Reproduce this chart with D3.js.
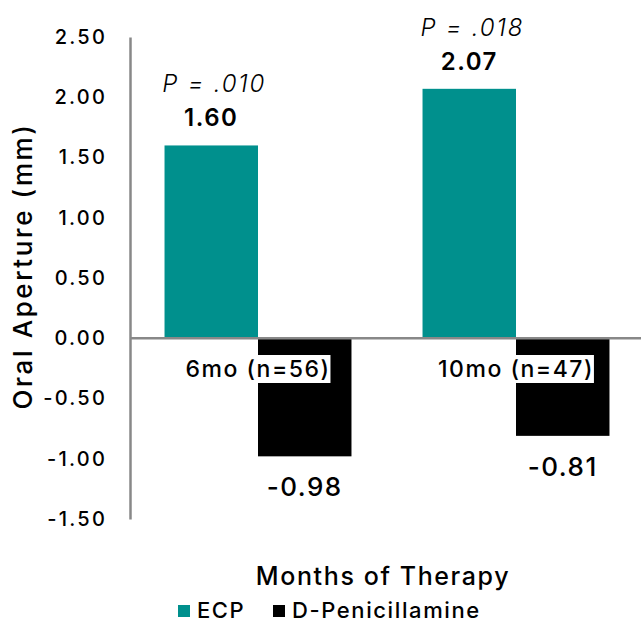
<!DOCTYPE html>
<html>
<head>
<meta charset="utf-8">
<script src="https://cdn.jsdelivr.net/npm/d3@7"></script>
<style>
  body { margin: 0; background: #fff; }
  text { font-family: Inter, "DejaVu Sans", sans-serif; fill: #000; }
</style>
</head>
<body>
<div id="chart"></div>
<script>
const categories = ['6mo (n=56)', '10mo (n=47)'];
const seriesNames = ['ECP', 'D-Penicillamine'];
const ecpValues = [1.60, 2.07];
const dpenValues = [-0.98, -0.81];
const pValues = ['P = .010', 'P = .018'];
const yTicks = [2.5, 2, 1.5, 1, 0.5, 0, -0.5, -1, -1.5];

const colors = { 'ECP': '#00908d', 'D-Penicillamine': '#000000' };

const width = 641, height = 622;

// plain hyphen for negatives, like the source
const fmt = v => d3.format('.2f')(v).replace('\u2212', '-');

const svg = d3.select('#chart')
  .append('svg')
  .attr('width', width)
  .attr('height', height);

const y = d3.scaleLinear()
  .domain([-1.5, 2.5])
  .range([519, 37]);

const x0 = d3.scaleBand()
  .domain(categories)
  .range([129, 645]);

const x1 = d3.scaleBand()
  .domain(seriesNames)
  .range([0, x0.bandwidth()])
  .paddingOuter(0.38);

const rows = categories.map((c, i) => ({
  cat: c,
  p: pValues[i],
  values: [
    { key: 'ECP', v: ecpValues[i] },
    { key: 'D-Penicillamine', v: dpenValues[i] }
  ]
}));

// y axis, no tick marks
const yAxis = svg.append('g')
  .attr('transform', 'translate(130,0)')
  .call(d3.axisLeft(y).tickValues(yTicks).tickSize(0).tickPadding(23).tickFormat(fmt));
yAxis.select('.domain').attr('stroke', '#888').attr('stroke-width', 2.5);
yAxis.selectAll('text')
  .style('font-family', 'Inter, "DejaVu Sans", sans-serif')
  .style('font-size', '20px')
  .style('font-weight', '500')
  .style('letter-spacing', '2.2px')
  .attr('fill', '#000');

svg.append('text')
  .attr('transform', 'translate(32,266) rotate(-90)')
  .attr('text-anchor', 'middle')
  .style('font-size', '26px')
  .style('font-weight', '500')
  .style('letter-spacing', '2.6px')
  .text('Oral Aperture (mm)');

const groups = svg.selectAll('.grp')
  .data(rows)
  .enter()
  .append('g')
  .attr('class', 'grp')
  .attr('transform', d => `translate(${x0(d.cat)},0)`);

groups.selectAll('rect')
  .data(d => d.values)
  .enter()
  .append('rect')
  .attr('x', d => x1(d.key))
  .attr('y', d => y(Math.max(0, d.v)))
  .attr('width', x1.bandwidth())
  .attr('height', d => Math.abs(y(d.v) - y(0)))
  .attr('fill', d => colors[d.key]);

svg.append('line')
  .attr('x1', 130).attr('x2', x0.range()[1])
  .attr('y1', y(0)).attr('y2', y(0))
  .attr('stroke', '#888')
  .attr('stroke-width', 2.5);

// value labels
groups.selectAll('.val')
  .data(d => d.values)
  .enter()
  .append('text')
  .attr('class', 'val')
  .attr('x', d => x1(d.key) + x1.bandwidth() / 2)
  .attr('y', d => d.v >= 0 ? y(d.v) - 19 : y(d.v) + 40)
  .attr('text-anchor', 'middle')
  .style('font-size', d => d.v >= 0 ? '24px' : '26px')
  .style('font-weight', d => d.v >= 0 ? '600' : '500')
  .style('letter-spacing', '1.5px')
  .text(d => fmt(d.v));

// p values above the ECP bars
groups.append('text')
  .attr('x', d => x1('ECP') + x1.bandwidth() / 2 + 3)
  .attr('y', d => y(d.values[0].v) - 53)
  .attr('text-anchor', 'middle')
  .style('font-size', '24px')
  .style('font-style', 'italic')
  .style('font-weight', '300')
  .style('letter-spacing', '1.8px')
  .text(d => d.p);

// category labels on a white box
groups.each(function(d) {
  const g = d3.select(this);
  const t = g.append('text')
    .attr('x', x0.bandwidth() / 2)
    .attr('y', 377)
    .attr('text-anchor', 'middle')
    .style('font-size', '23px')
    .style('font-weight', '500')
    .style('letter-spacing', '1.5px')
    .text(d.cat);
  const bb = t.node().getBBox();
  g.insert('rect', () => t.node())
    .attr('x', bb.x - 2)
    .attr('y', 355)
    .attr('width', bb.width + 2)
    .attr('height', 28)
    .attr('fill', '#fff');
});

svg.append('text')
  .attr('x', 383)
  .attr('y', 585)
  .attr('text-anchor', 'middle')
  .style('font-size', '25px')
  .style('font-weight', '500')
  .style('letter-spacing', '1.6px')
  .text('Months of Therapy');

// legend
const legendX = [178, 273];
const legend = svg.selectAll('.leg')
  .data(seriesNames)
  .enter()
  .append('g')
  .attr('class', 'leg')
  .attr('transform', (d, i) => `translate(${legendX[i]},605)`);

legend.append('rect')
  .attr('width', 12)
  .attr('height', 12)
  .attr('fill', d => colors[d]);

legend.append('text')
  .attr('x', 19)
  .attr('y', 12.5)
  .style('font-size', '22px')
  .style('font-weight', '500')
  .style('letter-spacing', '1.6px')
  .text(d => d);
</script>
</body>
</html>
